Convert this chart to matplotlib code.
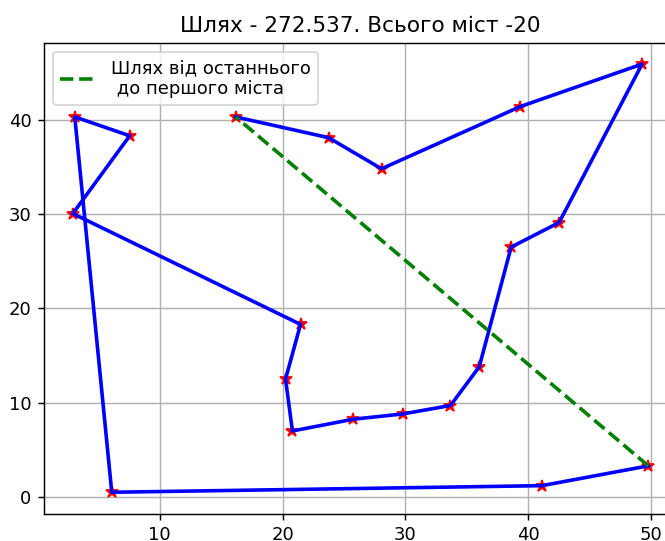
import matplotlib
matplotlib.use("Agg")
import matplotlib.pyplot as plt

# Cities in path order
xs = [16.18, 23.74, 28.05, 39.35, 49.25, 42.5, 38.6, 36.0, 33.66, 29.76,
      25.77, 20.8, 20.24, 21.46, 2.93, 7.56, 3.09, 6.1, 41.1, 49.76]
ys = [40.3, 38.1, 34.8, 41.4, 45.9, 29.1, 26.5, 13.8, 9.7, 8.8,
      8.25, 7.0, 12.5, 18.3, 30.05, 38.3, 40.3, 0.5, 1.2, 3.3]

title = "Шлях - 272.537. Всього міст -20"
legend_label = "Шлях від останнього\n до першого міста"

DPI = 130
fig = plt.figure(figsize=(665 / DPI, 541 / DPI), dpi=DPI)
ax = fig.add_axes([0.0662, 0.0505, 0.952, 0.8706])

ax.plot(xs, ys, linestyle="none", marker="*", color="red", markersize=7)
ax.plot(xs, ys, color="blue", linewidth=2)
ax.plot([xs[-1], xs[0]], [ys[-1], ys[0]], color="green", linestyle="--",
        linewidth=2, label=legend_label)

ax.set_title(title)
ax.grid(True)
ax.legend(loc="upper left")

fig.savefig("out.png", dpi=DPI)
